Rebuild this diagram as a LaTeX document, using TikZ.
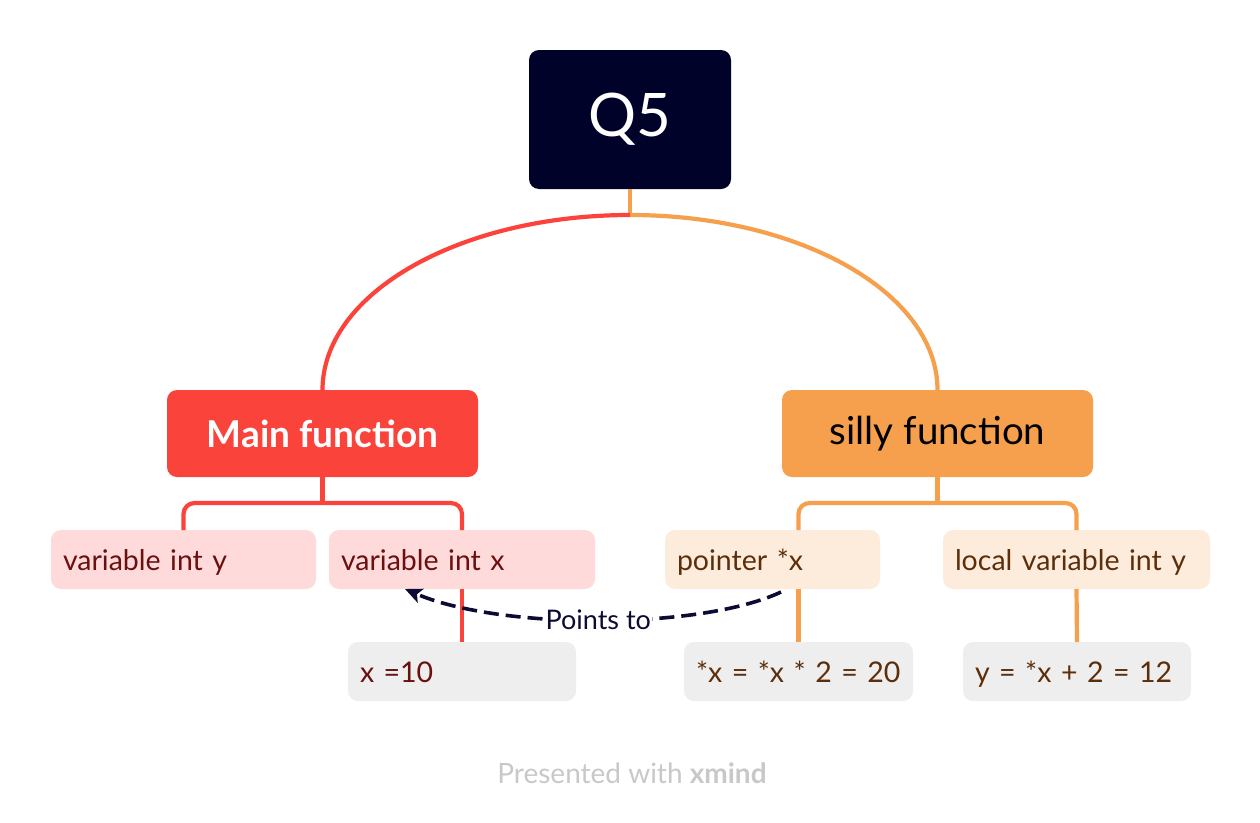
\documentclass[tikz,border=0pt]{standalone}
\usepackage{fontspec}
\setmainfont{Lato}
\usetikzlibrary{arrows.meta}
\definecolor{navy}{HTML}{000229}
\definecolor{mainred}{HTML}{FA433B}
\definecolor{orng}{HTML}{F6A04D}
\definecolor{lred}{HTML}{FFDADA}
\definecolor{lorng}{HTML}{FDECDC}
\definecolor{lgrey}{HTML}{EEEEEE}
\definecolor{dred}{HTML}{6B0F0F}
\definecolor{brwn}{HTML}{5C2E0A}
\definecolor{arrowc}{HTML}{0B0B33}
\definecolor{footc}{HTML}{C8C8C8}
\tikzset{
  box/.style={rounded corners=10pt, inner sep=0pt, outer sep=0pt},
  childbox/.style={box, minimum width=#1, text width=#1-24pt, minimum height=59pt, align=left, inner xsep=12pt, text height=21pt, text depth=0pt, font=\fontsize{28.5}{32}\selectfont},
  redline/.style={draw=mainred, line width=4.2pt},
  orline/.style={draw=orng, line width=4.2pt},
}
\begin{document}
\begin{tikzpicture}[x=1pt,y=-1pt]
\useasboundingbox (0,0) rectangle (1260,822);
% nodes
\node[box, fill=navy, text=white, minimum width=202pt, minimum height=139pt, font=\fontsize{60}{66}\selectfont] (q5) at (630,119.5) {Q5};
\node[box, fill=mainred, text=white, minimum width=311pt, minimum height=87pt, font=\fontsize{37}{42}\selectfont\bfseries] (main) at (322.5,433.5) {Main function};
\node[box, fill=orng, text=black, minimum width=311pt, minimum height=87pt, font=\fontsize{38.5}{42}\selectfont] (silly) at (937.5,433.5) {silly function\hspace{19pt}};
\node[childbox=265pt, fill=lred, text=dred] (vy) at (183.5,559.5) {variable int y};
\node[childbox=266pt, fill=lred, text=dred] (vx) at (462,559.5) {variable int x};
\node[childbox=215pt, fill=lorng, text=brwn] (px) at (772.5,559.5) {pointer *x};
\node[childbox=267pt, fill=lorng, text=brwn] (ly) at (1076.5,559.5) {local variable int y};
\node[childbox=228pt, fill=lgrey, text=dred] (gx) at (462,671.5) {x =10};
\node[childbox=229pt, fill=lgrey, text=brwn] (gp) at (798.5,671.5) {*x = *x * 2 = 20};
\node[childbox=228pt, fill=lgrey, text=brwn] (gy) at (1077,671.5) {y = *x + 2 = 12};
% trunk
\coordinate (j) at (630,215);
\draw[orline] (q5.south) -- (j);
\draw[redline] (j) .. controls (460,215) and (322.5,293) .. (main.north);
\draw[orline] (j) .. controls (800,215) and (937.5,293) .. (silly.north);
% left branch
\draw[redline] (main.south) -- (322.5,503);
\draw[redline, rounded corners=11pt] (vy.north) -- (vy.north |- 0,503) -- (vx.north |- 0,503) -- (vx.north);
\draw[redline] (vx.south) -- (gx.north);
% right branch
\draw[orline] (silly.south) -- (937.5,503);
\draw[orline, rounded corners=11pt] (gp.north |- px.north) -- (gp.north |- 0,503) -- (ly.north |- 0,503) -- (ly.north);
\draw[orline] (gp.north |- px.south) -- (gp.north);
\draw[orline] (ly.south) -- (gy.north);
% dashed arrow
\coordinate (as) at (781,592);
\coordinate (ae) at (405,589);
\draw[arrowc, line width=3.6pt, dash pattern=on 15pt off 7pt, -{Stealth[length=17pt,width=15pt,inset=4pt]}]
  (as) .. controls (700,630) and (500,630) .. (ae)
  node[pos=0.5, fill=white, text=arrowc, inner sep=1pt, font=\fontsize{27}{30}\selectfont] (lbl) {Points to};
% footer
\node[text=footc, font=\fontsize{28}{31}\selectfont] (foot) at (632,773) {Presented with \textbf{xmind}};
\end{tikzpicture}
\end{document}
